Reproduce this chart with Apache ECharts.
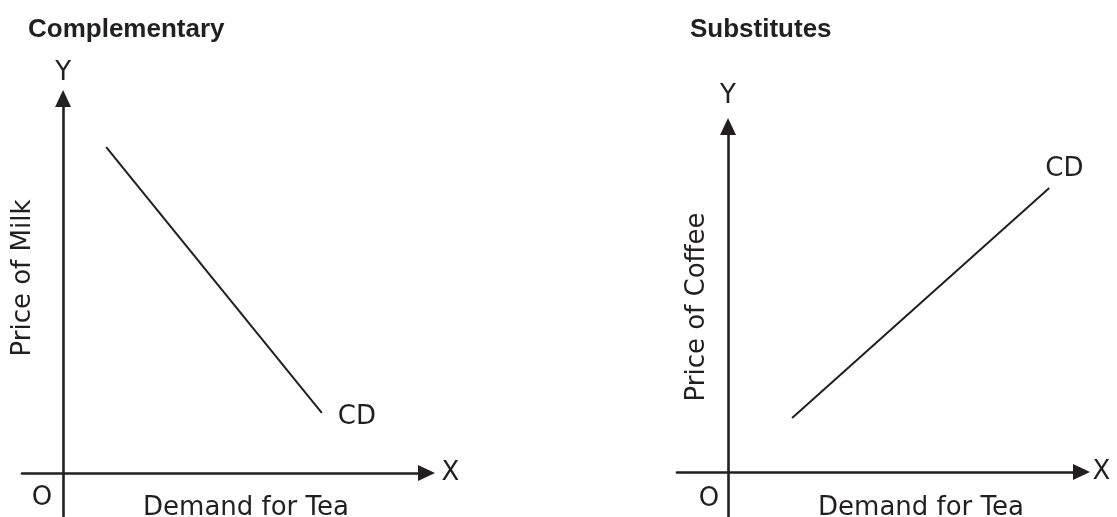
<!DOCTYPE html>
<html>
<head>
<meta charset="utf-8">
<script src="https://cdn.jsdelivr.net/npm/echarts@6/dist/echarts.min.js"></script>
<style>html,body{margin:0;padding:0;background:#fff}#c{width:1117px;height:517px}</style>
</head>
<body>
<div id="c"></div>
<script>
// Panel titles and axis texts
const panelTitles = ['Complementary', 'Substitutes'];
const yAxisTitles = ['Price of Milk', 'Price of Coffee'];
const xAxisTitle = 'Demand for Tea';
const curveLabel = 'CD';
// Curve values [demand, price]
const complementaryCurve = [[1.05, 7.58], [6.3, 1.4]];
const substitutesCurve = [[1.57, 1.35], [7.87, 7.1]];

const INK = '#231f20';
const FONT = 'DejaVu Sans';

function axisCommon(name, gap) {
  return {
    type: 'value',
    name: name,
    nameLocation: 'end',
    nameGap: gap,
    nameTextStyle: { color: INK, fontFamily: FONT, fontSize: 26 },
    axisLine: { show: true, onZero: true, symbol: ['none', 'triangle'], symbolSize: [16, 17],
      lineStyle: { color: INK, width: 2.6 } },
    axisTick: { show: false },
    axisLabel: { show: false },
    splitLine: { show: false }
  };
}

const option = {
  backgroundColor: '#fff',
  animation: false,
  title: [
    { text: panelTitles[0], left: 23, top: 12, textStyle: { color: INK, fontFamily: 'Liberation Sans', fontWeight: 'bold', fontSize: 26 } },
    { text: panelTitles[1], left: 685, top: 12, textStyle: { color: INK, fontFamily: 'Liberation Sans', fontWeight: 'bold', fontSize: 26 } }
  ],
  grid: [
    { left: 22, top: 98.5, width: 404.5, height: 417.5, outerBoundsMode: 'none', containLabel: false },
    { left: 677, top: 126.5, width: 404.5, height: 393.6, outerBoundsMode: 'none', containLabel: false }
  ],
  xAxis: [
    Object.assign(axisCommon('X', 15), { gridIndex: 0, min: -1, max: 8.85 }),
    Object.assign(axisCommon('X', 11), { gridIndex: 1, min: -1.25, max: 8.66 })
  ],
  yAxis: [
    Object.assign(axisCommon('Y', 12), { gridIndex: 0, min: -1, max: 8.71 }),
    Object.assign(axisCommon('Y', 17), { gridIndex: 1, min: -1.2, max: 8.64 })
  ],
  series: [
    {
      type: 'line', xAxisIndex: 0, yAxisIndex: 0, data: complementaryCurve,
      symbol: 'none', lineStyle: { color: INK, width: 2 },
      endLabel: { show: true, formatter: curveLabel, color: INK, fontFamily: FONT, fontSize: 26, offset: [8, 4] }
    },
    {
      type: 'line', xAxisIndex: 1, yAxisIndex: 1, data: substitutesCurve,
      symbol: 'none', lineStyle: { color: INK, width: 2 },
      endLabel: { show: true, formatter: curveLabel, color: INK, fontFamily: FONT, fontSize: 26, offset: [-12, -19] }
    }
  ],
  graphic: [
    { type: 'text', x: 23, y: 278, rotation: Math.PI / 2, style: { text: yAxisTitles[0], fill: INK, font: '26px "DejaVu Sans"', align: 'center', verticalAlign: 'middle' } },
    { type: 'text', x: 697, y: 307, rotation: Math.PI / 2, style: { text: yAxisTitles[1], fill: INK, font: '26px "DejaVu Sans"', align: 'center', verticalAlign: 'middle' } },
    { type: 'text', x: 246, y: 508, style: { text: xAxisTitle, fill: INK, font: '26px "DejaVu Sans"', align: 'center', verticalAlign: 'middle' } },
    { type: 'text', x: 921, y: 508, style: { text: xAxisTitle, fill: INK, font: '26px "DejaVu Sans"', align: 'center', verticalAlign: 'middle' } },
    { type: 'text', x: 42, y: 498, style: { text: 'O', fill: INK, font: '26px "DejaVu Sans"', align: 'center', verticalAlign: 'middle' } },
    { type: 'text', x: 709, y: 499, style: { text: 'O', fill: INK, font: '26px "DejaVu Sans"', align: 'center', verticalAlign: 'middle' } }
  ]
};

const chart = echarts.init(document.getElementById('c'), null, { renderer: 'canvas' });
chart.setOption(option);
</script>
</body>
</html>
